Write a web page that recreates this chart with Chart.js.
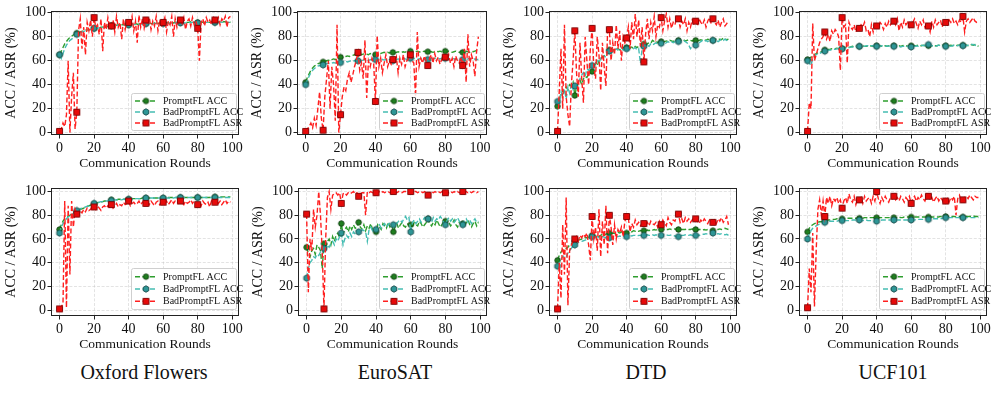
<!DOCTYPE html>
<html><head><meta charset="utf-8">
<script src="https://cdn.jsdelivr.net/npm/chart.js@4.4.0/dist/chart.umd.min.js"></script>
<style>
html,body{margin:0;padding:0;background:#fff;}
body{width:997px;height:396px;position:relative;overflow:hidden;font-family:'Liberation Serif','Times New Roman',serif;}
.ttl{position:absolute;top:359px;font-size:20px;line-height:26px;transform:translateX(-50%);white-space:nowrap;color:#111;font-family:'Liberation Serif','Times New Roman',serif;}
</style></head><body>
<script>
// ---------- data ----------
const rounds = Array.from({length:100},(_,i)=>i);
const xTicks = [0,20,40,60,80,100];
const yTicks = [0,20,40,60,80,100];
const seriesNames = ['PromptFL ACC','BadPromptFL ACC','BadPromptFL ASR'];
const datasetTitles = ['Oxford Flowers','EuroSAT','DTD','UCF101'];
const xAxisTitle = 'Communication Rounds';
const yAxisTitle = 'ACC / ASR (%)';

const flowersTopPrompt=[65,68,71,74,76,78,79.5,80.5,81.5,82.5,83,83.5,84,84.5,85,85.5,85.5,86,86,86.5,87,87,87.5,87.5,88,88,88,88.5,88.5,89,89.5,89,89.5,89.5,90,89.5,90,90,90.5,90,90,90.5,90.5,90,91,90.5,90.5,91,91,90.5,91,91,91.5,91,91,91.5,91.5,91,91.5,91.5,91.5,91.5,92,91.5,91.5,92,91.5,92,92,91.5,92,92,91.5,92,92,92,92.5,92,92,92,92,92,92.5,92,92,92.5,92,92,92.5,92,92,92.5,92,92.5,92,92.5,92.5,92,92.5,92];
const flowersTopBadAcc=[65,62,66,70,73,75,77,78,79.5,80.5,82,82.5,83.5,84,84.5,85,85,85.5,86,86.5,87,86.5,87,87.5,87.5,88,87.5,88,88.5,88.5,89,89,89,89.5,89.5,89.5,90,89.5,90,90,90,90,90.5,90,90.5,90.5,90,90.5,91,90.5,91,90.5,91,91,91,91,91.5,91,91,91.5,91,91.5,91.5,91,91.5,91.5,91.5,91.5,92,91.5,91.5,92,91.5,91.5,92,92,91.5,92,92,91.5,91.5,92,92,92,91.5,92,92,92.5,92,92,92,92,92,92.5,92,92,92.5,92,92,92];
const flowersTopAsr=[1,3,8,5,15,60,0,30,50,3,17,85,95,70,88,65,92,85,94,80,96,88,90,82,95,68,92,86,96,88,89,94,84,97,88,92,78,95,86,93,92,90,97,85,93,75,98,88,95,87,94,90,96,86,93,89,97,85,94,88,92,96,84,93,90,97,80,95,88,94,94,91,96,86,93,95,89,96,90,93,87,60,92,95,89,96,92,94,90,97,94,92,96,90,95,93,97,88,96,97];

const eurosatTopPrompt=[42,46,49,52,54,55.5,56.5,57.5,58,58.5,59,59.5,60,60.5,60,61,61.5,61,62,62.5,63,62.5,63,63.5,64,63.5,64,64.5,65,65,66,65.5,65,65.5,66,65.5,65,66,65.5,65,65,66,66.5,66,66.5,67,66.5,67,66.5,67,67,66.5,67,67.5,67,67,67.5,67,68,67.5,68,67.5,67,67.5,68,67.5,67,67.5,68,67.5,67.5,68,67.5,67,67.5,68,67.5,68,67.5,68,68,67.5,68,67.5,67,67.5,68,67.5,67,67.5,67,67.5,68,67.5,67,68,67.5,68,68.5,68];
const eurosatTopBadAcc=[40,44,47,50,52,53.5,54.5,55.5,56,56,56.5,57,57.5,58,57.5,58,58.5,58,58.5,58,58.5,59,59,59.5,59,59.5,60,59.5,60,60,60,60.5,60,60.5,61,60.5,60,61,60.5,61,61,60.5,61,61.5,61,60.5,61,61.5,61,60.5,60,60.5,61,61.5,61,61.5,62,61.5,61,61.5,62,61.5,62,61.5,61,61.5,62,61.5,61,61.5,61,61.5,62,61.5,62,62.5,62,61.5,62,61.5,62,61.5,61,61.5,62,61.5,61,61.5,61,61.5,61,61.5,61,61.5,62,61.5,61,61.5,61,61];
const eurosatTopAsr=[1,3,5,8,4,12,6,20,34,12,2,30,45,60,20,55,40,10,90,0,15,30,38,35,45,50,42,48,55,60,67,52,58,45,77,29,60,55,62,58,26,81,55,62,50,58,65,55,60,57,61,58,63,50,62,57,65,55,60,62,65,60,58,30,84,55,62,58,64,60,56,62,65,58,66,60,63,57,61,64,63,60,65,58,62,55,64,60,58,63,56,70,42,82,55,65,60,47,68,80];

const dtdTopPrompt=[22,28,32,35,34,38,36,40,39,42,31,38,42,44,40,45,47,46,49,50,51,55,58,56,60,62,63,64,66,67,69,67,68,69,68,70,69,70,71,70,71,70,71,71.5,70,72,71,72,72.5,71,74,73,74,75,74.5,77,76,76.5,75,76,76,75.5,76,76.5,76,77,76.5,76,77,76.5,77,76.5,77,77.5,76.5,77,77.5,77,76.5,77,77,76.5,77,77.5,77,77.5,77,78,77.5,77,77,77.5,78,77.5,78,77.5,79,78,77.5,78];
const dtdTopBadAcc=[26,24,34,30,36,28,38,33,40,36,39,37,42,45,48,50,47,53,52,55,56,54,57,60,58,62,61,64,63,66,68,66,69,68,70,69,70,71,69,70,70,69,70,71,70,71,69,70,58,70,72,71,73,72,74,73,74,75,74,73,74.5,75,74,75,76,75,76,75,76,75,76,75,76,77,76,75,73,70,72,74,73,74,75,76,77,76,77,76,77,78,77,76,77,76,77,78,77,78,77,76];
const dtdTopAsr=[1,35,70,20,90,30,15,5,40,60,85,50,30,75,45,25,80,60,40,70,87,55,45,80,65,35,75,55,39,85,86,60,75,65,90,70,85,60,80,75,79,88,70,92,78,99,80,94,72,88,59,82,95,78,92,85,97,80,90,88,96,85,93,99,88,95,87,92,90,96,95,88,93,90,95,85,92,88,94,90,93,89,95,92,90,94,88,93,96,91,95,92,90,94,88,92,95,89,91,93];

const ucfTopPrompt=[61,62,63,64,65,66,66.5,67,67.5,68,69,69,69.5,69.5,70,70,70,70.5,70,70.5,70,71,71,71.5,71,71.5,72,71.5,72,71.5,72,72,72.5,72,72,72.5,72,72.5,72,72.5,72.5,72,72.5,72,72.5,72.5,72,72.5,72,72.5,72.5,72,72.5,72.5,72,72.5,73,72.5,72,72.5,72.5,73,72.5,72.5,73,72.5,72.5,73,72.5,72.5,72.5,73,72.5,73,72.5,72.5,73,72.5,73,72.5,72.5,73,72.5,73,72.5,73,72.5,73,73,72.5,73,73,73,72.5,73,73.5,73,73.5,73,72];
const ucfTopBadAcc=[60,58,56,62,64,65,66,66,67,67,68,68.5,68.5,69,69,69.5,69.5,70,70,70,70,70.5,70.5,71,71,71.5,71.5,71.5,72,72,72,72,72,72,72.5,72.5,72,72.5,72.5,72,72,72.5,72,72.5,72.5,72,72.5,72,72.5,72,72,72,72.5,72,71.5,72,72,71.5,72,71.5,71.5,72,72,72.5,72,72.5,73,72.5,73,73,73.5,73,72.5,72.5,72,72.5,73,72.5,72,72.5,72,72.5,72.5,72,72.5,73,72.5,72.5,73,72.5,72.5,73,72.5,73,73,73.5,73.5,73,72.5,72];
const ucfTopAsr=[1,25,20,91,60,65,70,75,78,80,84,78,82,76,85,82,86,84,80,52,96,88,90,58,92,88,86,90,84,88,87,90,88,92,85,86,80,90,84,92,89,88,92,90,86,91,88,93,90,92,93,90,95,85,92,88,94,90,92,88,90,92,95,91,87,93,90,94,88,92,89,84,93,88,94,90,92,94,88,93,92,90,94,92,95,91,93,90,94,92,97,84,93,95,92,94,96,93,92,93];

const flowersBotPrompt=[68,72,75,77,78,79,80,81,82,82.5,83,84,85,85.5,86,87,87.5,88,88.5,89,89.5,90,90.5,91,91,91.5,92,92,92.5,92.5,93,93,93,93,93.5,93.5,93.5,93.5,93.5,93.5,93.5,94,94,94,94,94,94,94,94.5,94.5,94.5,94.5,94.5,94.5,94.5,94.5,94.5,94.5,94.5,94.5,94.5,94.5,94.5,95,95,95,95,95,95,95,95,95,95,95,95,95,95,95,95,95,95,95,95,95,95,95,95,95,95.5,95.5,95.5,95.5,95.5,95.5,95.5,95.5,95.5,95.5,95.5,95.5];
const flowersBotBadAcc=[65,70,73,75,77,78.5,79.5,80.5,81.5,82.5,84,84.5,85.5,86,86.5,87,87.5,88,89,89.5,90,90.5,91,91,91.5,91.5,92,92,92,92.5,92.5,92.5,93,93,93,93,93,93.5,93.5,93.5,93.5,93.5,93.5,94,94,94,94,94,94,94,94.5,94.5,94.5,94.5,94.5,94.5,94.5,94.5,94.5,94.5,94.5,94.5,94.5,94.5,94.5,94.5,94.5,95,95,95,95,95,95,95,95,95,95,95,95,95,95,95,95,95,95,95,95,95,95,95,95,95,95,95,95,95,95,95,95,95];
const flowersBotAsr=[1,3,5,92,2,88,30,92,70,85,81,80,84,82,85,83,86,84,85,87,87,85,88,86,84,87,88,86,88,87,89,86,88,90,87,89,88,91,89,90,92,88,90,91,89,90,92,89,91,90,90,91,89,92,90,88,91,92,89,91,91,90,92,89,91,93,90,92,91,90,92,91,89,92,90,91,93,90,92,91,89,91,88,92,90,89,91,87,92,90,91,93,90,92,89,91,93,90,92,91];

const eurosatBotPrompt=[53,48,45,50,52,47,55,53,50,35,56,52,58,60,55,62,58,63,65,61,73,64,68,70,66,71,68,72,69,70,74,70,68,72,67,71,69,73,68,70,66,72,70,68,73,71,69,74,70,72,66,70,73,69,72,74,71,70,73,72,72,70,74,72,71,75,73,70,72,74,77,73,71,74,72,76,73,70,72,75,75,72,74,71,73,76,72,70,74,73,73,71,74,76,72,70,73,75,71,74];
const eurosatBotBadAcc=[27,35,40,42,45,44,47,46,49,48,52,50,55,53,56,58,55,60,58,62,65,55,60,63,61,65,62,66,64,67,66,65,68,67,66,58,68,70,67,69,68,70,72,69,71,73,70,72,74,71,72,74,73,75,76,74,77,79,76,78,66,74,76,73,75,77,74,76,78,75,77,76,74,78,75,77,76,79,77,74,72,76,78,75,77,74,76,78,75,73,72,75,77,74,76,73,75,77,74,75];
const eurosatBotAsr=[81,15,60,50,85,70,80,100,80,50,1,60,95,100,85,97,98,99,97,99,90,98,99,97,99,98,99,100,98,99,96,98,99,99,80,100,99,100,99,100,99,99,100,99,100,99,100,100,99,100,100,100,99,100,100,99,100,100,99,100,100,99,100,100,99,100,100,99,100,99,97,99,100,99,100,99,100,99,100,99,99,100,99,100,99,100,99,100,99,100,100,99,100,99,100,99,100,100,99,100];

const dtdBotPrompt=[42,46,49,51,52,52,53,55,56,57,58,58.5,59,59.5,60,60,61,61,61.5,62,63,62,62.5,63,62,63,64,63,64,64.5,65,64,65,64.5,65,65.5,65,66,65.5,66,65,66,66.5,66,67,66.5,67,66.5,67,67,67,67,67.5,67,68,67.5,68,67.5,68,68,68,68,68.5,68,68,68.5,68,68,68.5,68,68,67.5,68,68,68,68.5,68,68,68.5,68,68,67.5,68,68,67.5,68,67.5,68,68,67.5,67,67.5,68,68,68.5,68,68.5,69,68.5,68];
const dtdBotBadAcc=[37,40,43,45,46,45,48,50,52,54,55,56,57,57.5,58,58.5,59,59.5,60,61,62,61,61.5,62,61,61.5,62,61.5,61,61,61,61.5,62,61.5,62,62,62.5,62,62.5,62,62,62.5,63,62.5,63,63,62.5,63,63,63,63,63,63.5,63,63,63.5,63,63.5,63,63.5,63,63.5,63,63.5,63,63,63.5,63,62.5,62,62,62.5,63,63,63.5,63,63,63.5,63,63,63,63.5,63,63.5,64,64,64.5,64,64.5,65,65,64.5,64,64.5,64,64.5,64,63.5,64,63];
const dtdBotAsr=[1,40,10,72,30,95,4,50,55,58,60,62,58,63,61,64,62,65,55,42,79,60,70,50,85,45,75,55,88,48,80,70,55,72,60,68,65,70,62,75,79,78,66,73,70,76,72,74,71,73,73,72,74,71,75,73,72,74,70,75,72,76,73,71,78,74,72,76,75,79,81,74,77,73,78,75,77,74,76,78,77,75,73,76,74,77,75,73,76,74,74,76,73,77,75,78,74,76,79,72];

const ucfBotPrompt=[66,69,71,72,73,73.5,74,74.5,74.5,75,75,75.5,76,76,76.5,76.5,76.5,77,77,77,77,77,77,77.5,77.5,77.5,77.5,77.5,77.5,77.5,77.5,77.5,77.5,78,78,77.5,78,78,78,78,78,78,78,78,78,78,78,78,78,78,78,78,78,78.5,78,78,78.5,78.5,78.5,78.5,78.5,78.5,78.5,78.5,78.5,78.5,78.5,78.5,78.5,78.5,78.5,78.5,78.5,78.5,78.5,78.5,78.5,79,79,78.5,79,79,79,78.5,79,79,78.5,79,79,79,78.5,78.5,79,79,79,79,79.5,79,79,79];
const ucfBotBadAcc=[60,64,67,69,70,71,72,72.5,73,73.5,74,74.5,74.5,75,75,75,75,75,75.5,75.5,75.5,75.5,75.5,75.5,75.5,75.5,76,76,76,76,76,76,75.5,76,76,75.5,75.5,75.5,75,75,75,75.5,75.5,76,76,76,76,76,76,76,76,76,76,76,76,76,76,76,76,76,76,76,76,76.5,76.5,76.5,76.5,76.5,76.5,76.5,76.5,76.5,76.5,77,77,77,77,77,77.5,77.5,78,78,78,78,78,78,78,78,78,78,78,78,78,78,78,78,78,78,78,78];
const ucfBotAsr=[2,35,15,65,3,50,85,93,80,92,79,95,90,96,88,94,92,95,90,93,86,92,95,90,98,93,91,96,89,94,93,95,90,96,92,94,95,90,96,92,100,94,90,95,92,96,93,91,95,94,96,93,95,92,96,94,91,95,93,96,90,94,96,92,95,93,97,94,92,96,96,93,95,91,94,96,92,95,93,90,92,94,91,95,93,96,80,94,97,92,93,95,96,94,97,95,93,96,95,95];

// ---------- styles ----------
const FONT = "'Liberation Serif','Times New Roman',serif";
const styles = [
  {line:'#2e9e2e', fill:'#1f7f1f', edge:'#0c3a0c', marker:'circle', size:5.5},
  {line:'#45bdb3', fill:'#2e9696', edge:'#164848', marker:'hex', size:6.5},
  {line:'#ff1f1f', fill:'#e60a0a', edge:'#7a0000', marker:'square', size:6}
];
function makeMarker(st){
  const s = Math.ceil(st.size)+3, c = document.createElement('canvas');
  c.width = s; c.height = s;
  const g = c.getContext('2d'), m = s/2, r = st.size/2;
  g.fillStyle = st.fill; g.strokeStyle = st.edge; g.lineWidth = 0.9;
  g.beginPath();
  if (st.marker==='circle') g.arc(m,m,r,0,Math.PI*2);
  else if (st.marker==='square') g.rect(m-r,m-r,2*r,2*r);
  else { for(let k=0;k<6;k++){const a=-Math.PI/2+k*Math.PI/3; const px=m+r*Math.cos(a), py=m+r*Math.sin(a); k?g.lineTo(px,py):g.moveTo(px,py);} g.closePath(); }
  g.fill(); g.stroke();
  return c;
}
const markers = styles.map(makeMarker);

// ---------- layout ----------
const panels = [
  {series:[flowersTopPrompt,flowersTopBadAcc,flowersTopAsr], l:51, t:11, w:188, h:124, ymin:-2, ymax:101.5, leg:{w:105,h:37,mb:5}},
  {series:[eurosatTopPrompt,eurosatTopBadAcc,eurosatTopAsr], l:297, t:11, w:190, h:124, ymin:-2, ymax:101.5, leg:{w:105,h:37,mb:5}},
  {series:[dtdTopPrompt,dtdTopBadAcc,dtdTopAsr], l:549, t:11, w:188, h:124, ymin:-2, ymax:101.5, leg:{w:105,h:37,mb:5}},
  {series:[ucfTopPrompt,ucfTopBadAcc,ucfTopAsr], l:799, t:11, w:188, h:124, ymin:-2, ymax:101.5, leg:{w:105,h:37,mb:5}},
  {series:[flowersBotPrompt,flowersBotBadAcc,flowersBotAsr], l:51, t:188, w:188, h:128, ymin:-5, ymax:103, leg:{w:105,h:41,mb:7}},
  {series:[eurosatBotPrompt,eurosatBotBadAcc,eurosatBotAsr], l:298, t:188, w:189, h:128, ymin:-5, ymax:103, leg:{w:105,h:41,mb:7}},
  {series:[dtdBotPrompt,dtdBotBadAcc,dtdBotAsr], l:549, t:188, w:188, h:128, ymin:-5, ymax:103, leg:{w:105,h:41,mb:7}},
  {series:[ucfBotPrompt,ucfBotBadAcc,ucfBotAsr], l:799, t:188, w:188, h:128, ymin:-5, ymax:103, leg:{w:105,h:41,mb:7}}
];

const framePlugin = {
  id:'frameLegend',
  afterDatasetsDraw(chart){
    const {ctx, chartArea:a} = chart;
    const leg = chart.options.plugins.frameLegend;
    ctx.save();
    ctx.strokeStyle = '#222'; ctx.lineWidth = 1; ctx.setLineDash([]);
    ctx.strokeRect(Math.round(a.left)+0.5, Math.round(a.top)+0.5, Math.round(a.right-a.left)-1, Math.round(a.bottom-a.top)-1);
    const x0 = a.right - 3 - leg.w, y0 = a.bottom - leg.mb - leg.h;
    ctx.fillStyle = 'rgba(255,255,255,0.85)'; ctx.strokeStyle = '#cfcfcf'; ctx.lineWidth = 1;
    ctx.beginPath(); ctx.roundRect(x0+0.5, y0+0.5, leg.w, leg.h, 2); ctx.fill(); ctx.stroke();
    const rowH = (leg.h-4)/3;
    ctx.font = '10px '+FONT; ctx.textBaseline = 'middle'; ctx.textAlign = 'left';
    for (let i=0;i<3;i++){
      const cy = y0 + 2 + rowH*(i+0.5) + 0.5;
      ctx.strokeStyle = styles[i].line; ctx.lineWidth = 1.5; ctx.setLineDash([5,2.5]);
      ctx.beginPath(); ctx.moveTo(x0+4, cy); ctx.lineTo(x0+26, cy); ctx.stroke();
      ctx.setLineDash([]);
      const mk = markers[i];
      ctx.drawImage(mk, x0+15-mk.width/2, cy-mk.height/2);
      ctx.fillStyle = '#111';
      ctx.fillText(seriesNames[i], x0+32, cy+0.5);
    }
    ctx.restore();
  }
};

function makeChart(p){
  const padTop = 10, padRight = 10, yW = 52, xH = 41;
  const W = p.w + yW + padRight, H = p.h + padTop + xH;
  const cv = document.createElement('canvas');
  cv.width = W; cv.height = H;
  cv.style.cssText = `position:absolute;left:${p.l-yW}px;top:${p.t-padTop}px;width:${W}px;height:${H}px;`;
  document.body.appendChild(cv);
  const datasets = p.series.map((vals,i)=>({
    label: seriesNames[i],
    data: rounds.map((r,k)=>({x:r, y:vals[k]})),
    borderColor: styles[i].line,
    borderWidth: 1.4,
    borderDash: [5,2.5],
    fill: false,
    tension: 0,
    pointStyle: markers[i],
    pointRadius: ctx => (ctx.dataIndex % 10 === 0 ? 4 : 0),
    pointHoverRadius: 0,
    order: 3 - i
  }));
  const gridCommon = {color:'rgba(190,190,190,0.55)', lineWidth:0.8, tickColor:'#222', tickLength:3.5, tickWidth:1, tickBorderDash:[]};
  new Chart(cv, {
    type:'line',
    data:{datasets},
    options:{
      responsive:false, animation:false, devicePixelRatio:1,
      layout:{padding:{top:padTop, right:padRight, left:0, bottom:0}},
      plugins:{legend:{display:false}, tooltip:{enabled:false}, frameLegend:p.leg},
      scales:{
        x:{type:'linear', min:-4.95, max:103.95,
           afterBuildTicks:s=>{s.ticks = xTicks.map(v=>({value:v}));},
           afterFit:s=>{s.height = xH;},
           ticks:{font:{family:FONT,size:14}, color:'#111', padding:1, maxRotation:0, autoSkip:false},
           grid:gridCommon, border:{display:false, dash:[3,1.6]},
           title:{display:true, text:xAxisTitle, font:{family:FONT,size:13.5}, color:'#111', padding:{top:0,bottom:4}}},
        y:{type:'linear', min:p.ymin, max:p.ymax,
           afterBuildTicks:s=>{s.ticks = yTicks.map(v=>({value:v}));},
           afterFit:s=>{s.width = yW;},
           ticks:{font:{family:FONT,size:14,lineHeight:1}, color:'#111', padding:1.5, autoSkip:false},
           grid:gridCommon, border:{display:false, dash:[3,1.6]},
           title:{display:true, text:yAxisTitle, font:{family:FONT,size:14}, color:'#111', padding:{top:4,bottom:0}}}
      }
    },
    plugins:[framePlugin]
  });
}
panels.forEach(makeChart);

const titleX = [144, 395, 646, 893];
datasetTitles.forEach((t,i)=>{
  const d = document.createElement('div');
  d.className = 'ttl'; d.textContent = t; d.style.left = titleX[i]+'px';
  document.body.appendChild(d);
});
</script>
</body></html>
